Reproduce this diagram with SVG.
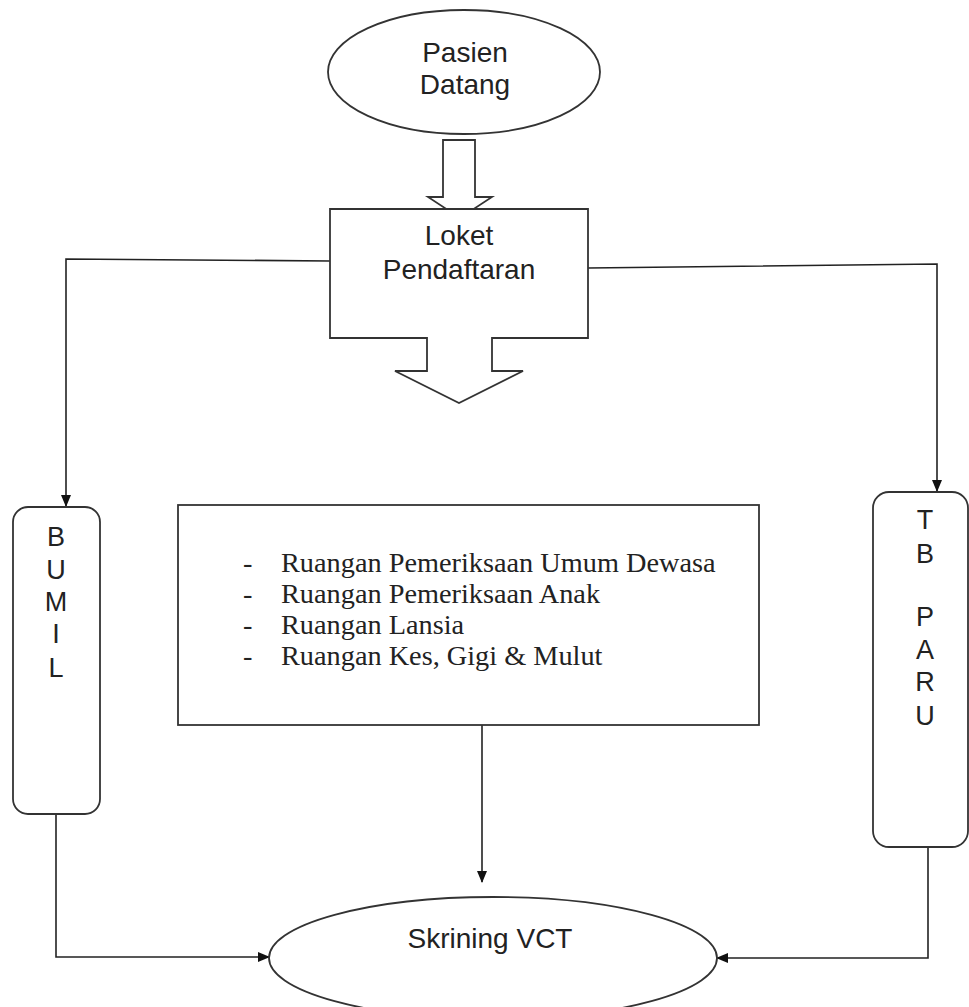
<svg xmlns="http://www.w3.org/2000/svg" width="969" height="1007" viewBox="0 0 969 1007">
<defs>
<style>
.shape{fill:#fff;stroke:#333;stroke-width:1.8}
.conn{fill:none;stroke:#222;stroke-width:1.6}
.lbl{font-family:"Liberation Sans",Arial,sans-serif;font-size:28px;fill:#222;text-anchor:middle}
.vl{font-family:"Liberation Sans",Arial,sans-serif;font-size:27px;fill:#222;text-anchor:middle}
.tr{font-family:"Liberation Serif","Times New Roman",serif;font-size:28.3px;fill:#222}
</style>
<marker id="ah" markerWidth="12" markerHeight="10" refX="11" refY="5" orient="auto" markerUnits="userSpaceOnUse">
<path d="M0,0 L12,5 L0,10 Z" fill="#111"/>
</marker>
</defs>
<rect width="969" height="1007" fill="#fff"/>
<g id="connectors">
<polyline class="conn" points="330,261 66,259 66,506" marker-end="url(#ah)"/>
<polyline class="conn" points="588,268 937,264 937,491" marker-end="url(#ah)"/>
<line class="conn" x1="482" y1="725" x2="482" y2="882" marker-end="url(#ah)"/>
<polyline class="conn" points="56,814 56,957 269,957" marker-end="url(#ah)"/>
<polyline class="conn" points="928,847 928,958 717,958" marker-end="url(#ah)"/>
</g>
<g id="pasien">
<ellipse class="shape" cx="464" cy="72" rx="136" ry="62"/>
<text class="lbl" x="465" y="62">Pasien</text>
<text class="lbl" x="465" y="94">Datang</text>
</g>
<g id="arrow1">
<path class="shape" d="M443,140 V197 H428 L460,218 L492,197 H475 V140 Z"/>
</g>
<g id="loket">
<path class="shape" d="M330,209 H588 V338 H492 V371 H523 L459,403 L395,371 H427 V338 H330 Z"/>
<text class="lbl" x="459" y="245">Loket</text>
<text class="lbl" x="459" y="279">Pendaftaran</text>
</g>
<g id="bumil">
<rect class="shape" x="13" y="507" width="87" height="307" rx="15"/>
<text class="vl" x="56" y="546">B</text>
<text class="vl" x="56" y="579">U</text>
<text class="vl" x="56" y="611">M</text>
<text class="vl" x="56" y="643">I</text>
<text class="vl" x="56" y="677">L</text>
</g>
<g id="tbparu">
<rect class="shape" x="873" y="492" width="95" height="355" rx="16"/>
<text class="vl" x="925" y="529">T</text>
<text class="vl" x="925" y="563">B</text>
<text class="vl" x="925" y="626">P</text>
<text class="vl" x="925" y="659">A</text>
<text class="vl" x="925" y="691">R</text>
<text class="vl" x="925" y="725">U</text>
</g>
<g id="ruangan">
<rect class="shape" x="178" y="505" width="581" height="220"/>
<text class="tr" x="243" y="572">-</text>
<text class="tr" x="281" y="572">Ruangan Pemeriksaan Umum Dewasa</text>
<text class="tr" x="243" y="603">-</text>
<text class="tr" x="281" y="603">Ruangan Pemeriksaan Anak</text>
<text class="tr" x="243" y="634">-</text>
<text class="tr" x="281" y="634">Ruangan Lansia</text>
<text class="tr" x="243" y="665">-</text>
<text class="tr" x="281" y="665">Ruangan Kes, Gigi &amp; Mulut</text>
</g>
<g id="skrining">
<ellipse class="shape" cx="493" cy="958" rx="224" ry="61"/>
<text class="lbl" x="490" y="948">Skrining VCT</text>
</g>
</svg>
